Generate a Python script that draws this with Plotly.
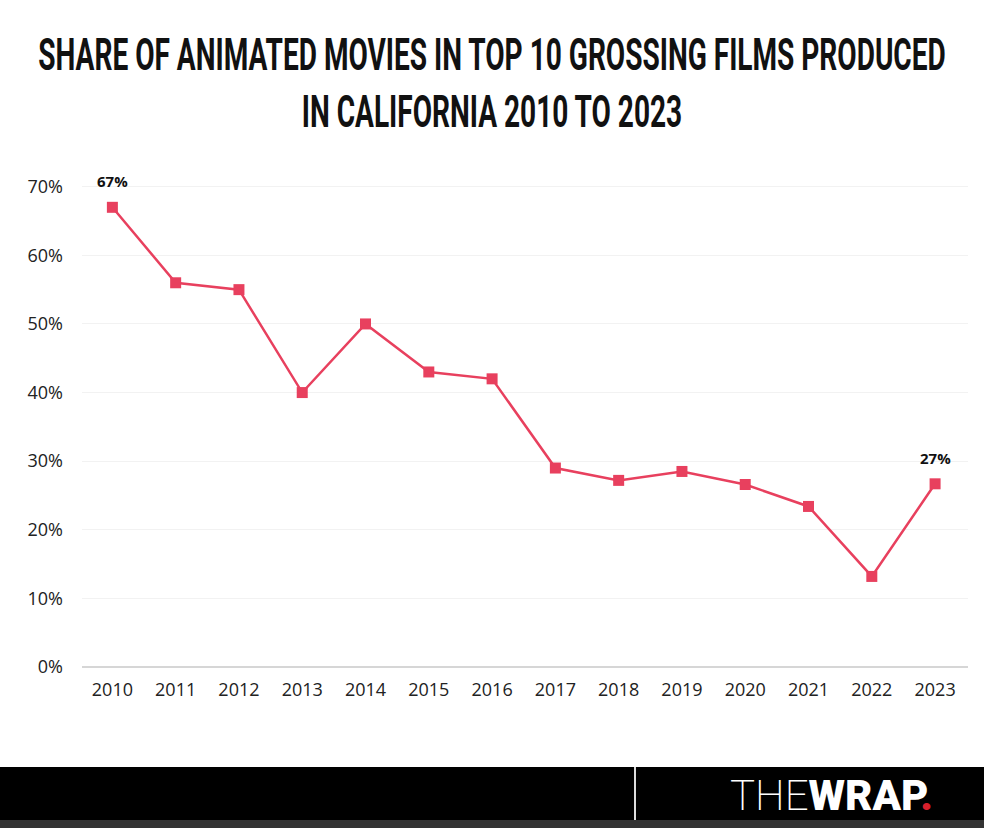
import plotly.graph_objects as go

# share of animated movies among top-10 grossing films produced in California
years = [2010, 2011, 2012, 2013, 2014, 2015, 2016, 2017, 2018, 2019, 2020, 2021, 2022, 2023]
share = [67, 56, 55, 40, 50, 43, 42, 29, 27.2, 28.5, 26.6, 23.4, 13.2, 26.7]
label_years = [2010, 2023]
label_text = ["67%", "27%"]

y_ticks = [0, 10, 20, 30, 40, 50, 60, 70]
y_tick_labels = [f"{v}%" for v in y_ticks]

RED = "#e8405e"
W, H = 984, 828
L, R, T, B = 82, 16, 173, 161


# pixel -> paper helpers for the footer band
def px(x):
    return (x - L) / (W - L - R)


def py(y):
    return (H - B - y) / (H - T - B)


fig = go.Figure()
fig.add_trace(go.Scatter(
    x=years, y=share, mode="lines+markers",
    line=dict(color=RED, width=2.5),
    marker=dict(symbol="square", size=11, color=RED),
    hoverinfo="x+y", showlegend=False,
))

for yr, txt in zip(label_years, label_text):
    fig.add_annotation(
        x=yr, y=share[years.index(yr)], text=f"<b>{txt}</b>",
        showarrow=False, yshift=26,
        font=dict(family="Open Sans", size=15, color="#111"),
    )

# footer: black band, thin separator and the logo
fig.add_shape(type="rect", xref="paper", yref="paper",
              x0=px(0), x1=px(W), y0=py(820), y1=py(767),
              fillcolor="#000", line_width=0, layer="above")
fig.add_shape(type="rect", xref="paper", yref="paper",
              x0=px(0), x1=px(W), y0=py(828), y1=py(820),
              fillcolor="#333", line_width=0, layer="above")
fig.add_shape(type="line", xref="paper", yref="paper",
              x0=px(635), x1=px(635), y0=py(820), y1=py(767),
              line=dict(color="#ddd", width=2), layer="above")
fig.add_annotation(
    xref="paper", yref="paper", x=px(935), y=py(795),
    xanchor="right", yanchor="middle", showarrow=False,
    text="<span style='font-weight:200'>THE</span><span style='font-weight:900'>WRAP</span><span style='color:#d71f2b;font-weight:900'>.</span>",
    font=dict(family="Roboto", size=42, color="#fff"),
)

fig.update_layout(
    width=W, height=H,
    margin=dict(l=L, r=R, t=T, b=B),
    paper_bgcolor="#fff", plot_bgcolor="#fff",
    title=dict(
        text="<b>SHARE OF ANIMATED MOVIES IN TOP 10 GROSSING FILMS PRODUCED<br>IN CALIFORNIA 2010 TO 2023</b>",
        x=0.5, xanchor="center", y=1 - 70 / H, yanchor="middle",
        font=dict(family="Roboto", size=44, color="#111"),
    ),
    xaxis=dict(
        range=[2009.52, 2023.52], tickvals=years, ticktext=[str(y) for y in years],
        showgrid=False, zeroline=False, showline=False,
        tickfont=dict(family="Open Sans", size=18, color="#222"),
        ticks="", ticklabelstandoff=10,
    ),
    yaxis=dict(
        range=[0, 72], tickvals=y_ticks, ticktext=y_tick_labels,
        showgrid=True, gridcolor="#f2f2f2", gridwidth=1,
        zeroline=True, zerolinecolor="#d6d6d6", zerolinewidth=1.5,
        showline=False, ticks="",
        tickfont=dict(family="Open Sans", size=18, color="#222"),
        ticklabelstandoff=18,
    ),
)

# no body margin; squeeze the title horizontally to mimic the condensed headline face
post = """
document.body.style.margin = '0';
var gd = document.getElementsByClassName('plotly-graph-div')[0];
function squeezeTitle() {
  var t = gd.querySelector('.gtitle');
  if (!t) return;
  t.removeAttribute('transform');
  var bb = t.getBBox();
  var s = 908 / bb.width;
  var cx = bb.x + bb.width / 2;
  t.setAttribute('transform', 'translate(' + cx + ',0) scale(' + s + ',1) translate(' + (-cx) + ',0)');
}
squeezeTitle();
gd.on('plotly_afterplot', squeezeTitle);
"""

fig.write_html("out.html", post_script=post, config={"displayModeBar": False})
